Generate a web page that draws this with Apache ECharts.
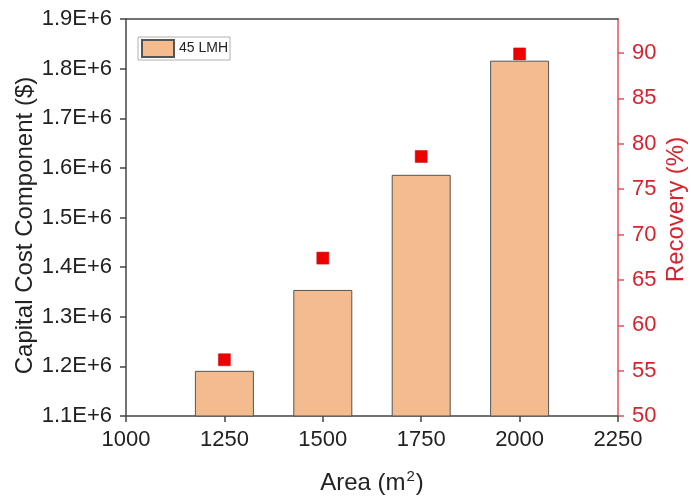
<!DOCTYPE html>
<html>
<head>
<meta charset="utf-8">
<script src="https://cdn.jsdelivr.net/npm/echarts@6/dist/echarts.min.js"></script>
<style>html,body{margin:0;padding:0;background:#fff;}#c{width:691px;height:500px;}</style>
</head>
<body>
<div id="c"></div>
<script>
var areas = [1250, 1500, 1750, 2000];
var capitalCost = [1191000, 1354000, 1586000, 1816000];
var recovery = [56.2, 67.4, 78.6, 89.9];
var xTicks = [1000, 1250, 1500, 1750, 2000, 2250];
var leftTicks = [1100000, 1200000, 1300000, 1400000, 1500000, 1600000, 1700000, 1800000, 1900000];
var rightTicks = [50, 55, 60, 65, 70, 75, 80, 85, 90];
var seriesName = '45 LMH';

var FONT = '"Liberation Sans", Arial, sans-serif';
var chart = echarts.init(document.getElementById('c'));
chart.setOption({
  backgroundColor: '#ffffff',
  animation: false,
  textStyle: {fontFamily: FONT},
  grid: {left: 126, right: 73, top: 19, bottom: 84, containLabel: false, outerBoundsMode: 'none'},
  legend: {
    data: [{name: seriesName, icon: 'rect'}],
    left: 138, top: 37,
    itemWidth: 32, itemHeight: 17, itemGap: 4,
    padding: [2, 2, 2, 3],
    borderColor: '#b0b0b0', borderWidth: 1,
    textStyle: {fontSize: 14, color: '#222', fontFamily: FONT}
  },
  xAxis: [{
    type: 'value', min: xTicks[0], max: xTicks[xTicks.length - 1], interval: 250,
    name: 'Area (m{sup|2})', nameLocation: 'middle', nameGap: 53, nameMoveOverlap: false,
    nameTextStyle: {fontSize: 24, color: '#222', fontFamily: FONT,
      rich: {sup: {fontSize: 15, verticalAlign: 'top', color: '#222', fontFamily: FONT, padding: [0, 1, 13, 1]}}},
    axisLine: {lineStyle: {color: '#444', width: 1.5}},
    axisTick: {inside: false, length: 6, lineStyle: {color: '#444', width: 1.5}},
    axisLabel: {fontSize: 22, color: '#222', margin: 13, fontFamily: FONT,
      formatter: function (v) { return String(v); }},
    splitLine: {show: false}
  }, {
    type: 'value', position: 'top', min: xTicks[0], max: xTicks[xTicks.length - 1], interval: 250,
    axisLine: {show: true, onZero: false, lineStyle: {color: '#444', width: 1.5}},
    axisTick: {show: false}, axisLabel: {show: false}, splitLine: {show: false}
  }],
  yAxis: [{
    type: 'value', min: leftTicks[0], max: leftTicks[leftTicks.length - 1], interval: 100000,
    name: 'Capital Cost Component ($)', nameLocation: 'middle', nameGap: 89, nameMoveOverlap: false,
    nameTextStyle: {fontSize: 24, color: '#222', fontFamily: FONT, padding: [0, 16, 0, 0]},
    axisLine: {show: true, lineStyle: {color: '#444', width: 1.5}},
    axisTick: {show: true, length: 6, lineStyle: {color: '#444', width: 1.5}},
    axisLabel: {fontSize: 22, color: '#222', margin: 14, fontFamily: FONT,
      formatter: function (v) { return (v / 1e6).toFixed(1) + 'E+6'; }},
    splitLine: {show: false}
  }, {
    type: 'value', position: 'right', min: 50, max: 93.75, interval: 5,
    name: 'Recovery (%)', nameLocation: 'middle', nameGap: 46, nameRotate: 90, nameMoveOverlap: false,
    nameTextStyle: {fontSize: 24, color: '#d8232f', fontFamily: FONT, padding: [0, 0, 0, 16]},
    axisLine: {show: true, lineStyle: {color: '#e4505c', width: 1.5}},
    axisTick: {show: true, length: 6, customValues: rightTicks, lineStyle: {color: '#e4505c', width: 1.5}},
    axisLabel: {fontSize: 22, color: '#d8232f', margin: 14, fontFamily: FONT, customValues: rightTicks},
    splitLine: {show: false}
  }],
  series: [{
    name: seriesName, type: 'bar', xAxisIndex: 0, yAxisIndex: 0, z: 3,
    barWidth: 59,
    itemStyle: {color: '#f4bc8e', borderColor: '#555555', borderWidth: 1},
    data: areas.map(function (a, i) { return [a, capitalCost[i]]; })
  }, {
    name: 'Recovery', type: 'scatter', xAxisIndex: 0, yAxisIndex: 1, z: 2,
    symbol: 'rect', symbolSize: 12,
    itemStyle: {color: '#ee0000', borderColor: '#cc0000', borderWidth: 0.5, opacity: 1},
    data: areas.map(function (a, i) { return [a, recovery[i]]; })
  }]
});
</script>
</body>
</html>
